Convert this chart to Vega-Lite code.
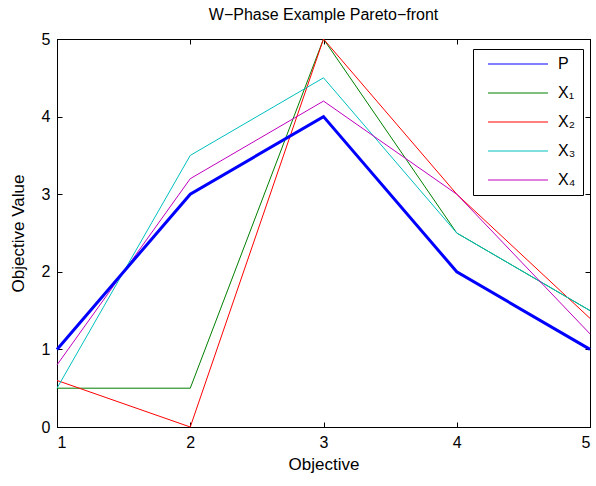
{
  "$schema": "https://vega.github.io/schema/vega-lite/v6.json",
  "width": 533,
  "height": 388,
  "autosize": {"type": "none"},
  "padding": {"left": 57, "top": 39, "right": 6, "bottom": 59},
  "title": {
    "text": "W\u2212Phase Example Pareto\u2212front",
    "font": "Liberation Sans",
    "fontSize": 16,
    "fontWeight": "normal",
    "offset": 8
  },
  "config": {
    "view": {"stroke": "black", "strokeWidth": 1},
    "font": "Liberation Sans"
  },
  "data": {
    "values": [
      {"series": "P", "objective": 1, "value": 1},
      {"series": "P", "objective": 2, "value": 3},
      {"series": "P", "objective": 3, "value": 4},
      {"series": "P", "objective": 4, "value": 2},
      {"series": "P", "objective": 5, "value": 1},
      {"series": "X\u2081", "objective": 1, "value": 0.5},
      {"series": "X\u2081", "objective": 2, "value": 0.5},
      {"series": "X\u2081", "objective": 3, "value": 5},
      {"series": "X\u2081", "objective": 4, "value": 2.5},
      {"series": "X\u2081", "objective": 5, "value": 1.5},
      {"series": "X\u2082", "objective": 1, "value": 0.6},
      {"series": "X\u2082", "objective": 2, "value": 0},
      {"series": "X\u2082", "objective": 3, "value": 5},
      {"series": "X\u2082", "objective": 4, "value": 3},
      {"series": "X\u2082", "objective": 5, "value": 1.4},
      {"series": "X\u2083", "objective": 1, "value": 0.5},
      {"series": "X\u2083", "objective": 2, "value": 3.5},
      {"series": "X\u2083", "objective": 3, "value": 4.5},
      {"series": "X\u2083", "objective": 4, "value": 2.5},
      {"series": "X\u2083", "objective": 5, "value": 1.5},
      {"series": "X\u2084", "objective": 1, "value": 0.8},
      {"series": "X\u2084", "objective": 2, "value": 3.2},
      {"series": "X\u2084", "objective": 3, "value": 4.2},
      {"series": "X\u2084", "objective": 4, "value": 3},
      {"series": "X\u2084", "objective": 5, "value": 1.2}
    ]
  },
  "encoding": {
    "x": {"field": "objective", "type": "quantitative", "scale": {"domain": [1, 5], "nice": false}},
    "y": {"field": "value", "type": "quantitative", "scale": {"domain": [0, 5], "nice": false}},
    "color": {
      "field": "series",
      "type": "nominal",
      "scale": {
        "domain": ["P", "X\u2081", "X\u2082", "X\u2083", "X\u2084"],
        "range": ["#0000ff", "#007f00", "#ff0000", "#00bfbf", "#bf00bf"]
      },
      "legend": {
        "title": null,
        "orient": "none",
        "legendX": 416,
        "legendY": 10,
        "symbolType": "M0,0L10,0",
        "symbolSize": 144,
        "symbolStrokeWidth": 1,
        "labelFontSize": 16,
        "labelFont": "Liberation Sans",
        "rowPadding": 13,
        "padding": 7,
        "strokeColor": "black",
        "fillColor": "white",
        "labelOffset": 62
      }
    }
  },
  "layer": [
    {
      "transform": [{"filter": "datum.series !== 'P'"}],
      "mark": {"type": "line", "strokeWidth": 1},
      "encoding": {
        "x": {
          "field": "objective", "type": "quantitative",
          "axis": {
            "title": "Objective", "titleFontSize": 17, "titleFontWeight": "normal", "titleColor": "black",
            "values": [1, 2, 3, 4, 5], "format": "d", "tickSize": -5, "labelPadding": 12,
            "labelFontSize": 16, "labelColor": "black", "domainColor": "black", "tickColor": "black", "grid": false,
            "titlePadding": 6
          }
        },
        "y": {
          "field": "value", "type": "quantitative",
          "axis": {
            "title": "Objective Value", "titleFontSize": 17, "titleFontWeight": "normal", "titleColor": "black",
            "values": [0, 1, 2, 3, 4, 5], "format": "d", "tickSize": -5, "labelPadding": 12,
            "labelFontSize": 16, "labelColor": "black", "domainColor": "black", "tickColor": "black", "grid": false,
            "titlePadding": 14
          }
        }
      }
    },
    {
      "transform": [{"filter": "datum.series === 'P'"}],
      "mark": {"type": "line", "strokeWidth": 3},
      "encoding": {
        "x": {
          "field": "objective", "type": "quantitative",
          "axis": {"orient": "top", "title": null, "labels": false, "values": [1, 2, 3, 4, 5], "tickSize": -5, "tickColor": "black", "domainColor": "black", "grid": false}
        },
        "y": {
          "field": "value", "type": "quantitative",
          "axis": {"orient": "right", "title": null, "labels": false, "values": [0, 1, 2, 3, 4, 5], "tickSize": -5, "tickColor": "black", "domainColor": "black", "grid": false}
        }
      }
    }
  ],
  "resolve": {"axis": {"x": "independent", "y": "independent"}}
}
